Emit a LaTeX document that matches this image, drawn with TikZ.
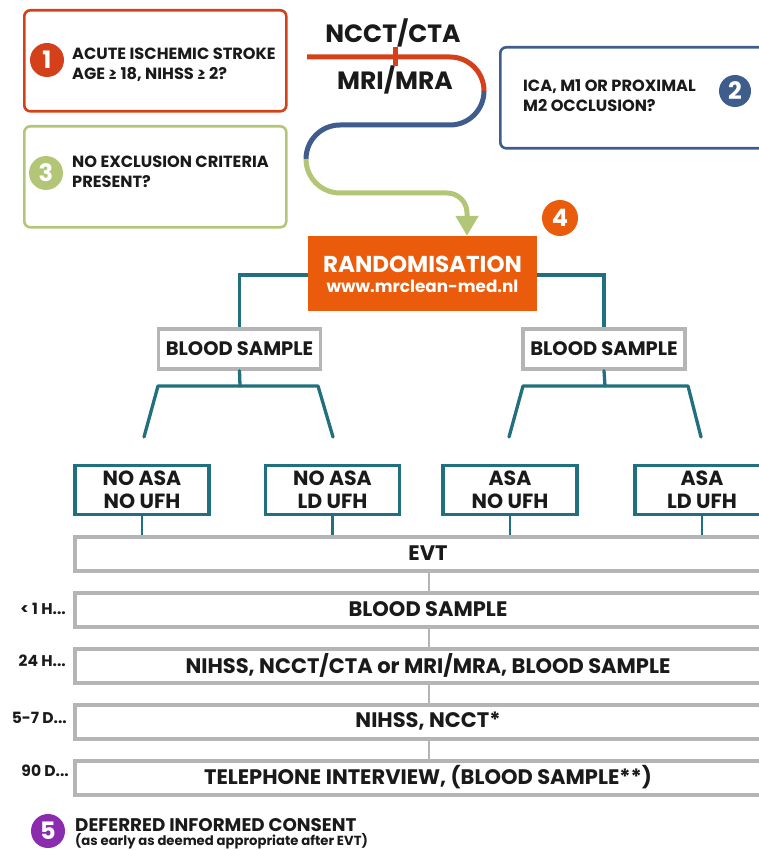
\documentclass[tikz,border=0pt]{standalone}
\usepackage{fontspec}
\setmainfont{Poppins}
\usetikzlibrary{arrows.meta}
\definecolor{cred}{HTML}{D4401A}
\definecolor{corange}{HTML}{EA5B0C}
\definecolor{cblue}{HTML}{3E5C8C}
\definecolor{cgreen}{HTML}{B3C678}
\definecolor{cteal}{HTML}{21707F}
\definecolor{cgrey}{HTML}{B5B5B5}
\definecolor{cpurple}{HTML}{8B2BAE}
\definecolor{ctext}{HTML}{1A1A1A}
\begin{document}
\begin{tikzpicture}[x=1pt,y=-1pt,
  critbox/.style={draw=#1,line width=2.6pt,rounded corners=6pt,minimum width=262pt,minimum height=101pt,anchor=north west,inner sep=0pt},
  numcirc/.style={circle,fill=#1,text=white,font=\fontsize{24}{24}\selectfont\bfseries,minimum size=34pt,inner sep=0pt},
  crittext/.style={anchor=west,align=left,text=ctext,font=\fontsize{16.2}{20}\selectfont\bfseries,inner sep=0pt},
  greybox/.style={draw=cgrey,line width=3.5pt,fill=white,text=ctext,inner sep=0pt},
  treatbox/.style={draw=cteal,line width=3.5pt,fill=white,text=ctext,align=center,minimum width=134pt,minimum height=49pt,inner sep=0pt,font=\fontsize{20.5}{22.5}\selectfont\bfseries},
  rowbox/.style={greybox,anchor=north west,minimum width=720pt,minimum height=34pt},
  rowtext/.style={text=ctext,inner sep=0pt,font=\fontsize{21}{22}\selectfont\bfseries},
  teal line/.style={draw=cteal,line width=3.3pt,line cap=round},
  grey line/.style={draw=cgrey,line width=2.2pt},
  timelabel/.style={anchor=east,text=ctext,font=\fontsize{15.5}{16}\selectfont\bfseries,inner sep=0pt},
  snake/.style={line width=5pt}
]
\useasboundingbox (0,0) rectangle (758,850);

% criteria boxes
\node[critbox=cred] (b1) at (23,9) {};
\node[numcirc=cred] (n1) at (47,60) {1};
\node[crittext] (t1) at (72,65) {ACUTE ISCHEMIC STROKE\\AGE ≥ 18, NIHSS ≥ 2?};

\node[critbox=cblue,minimum width=300pt] (b2) at (499,46) {};
\node[numcirc=cblue,minimum size=32pt] (n2) at (735,91) {2};
\node[crittext] (t2) at (523,96) {ICA, M1 OR PROXIMAL\\M2 OCCLUSION?};

\node[critbox=cgreen] (b3) at (23,125) {};
\node[numcirc=cgreen] (n3) at (46,173) {3};
\node[crittext] (t3) at (72,172) {NO EXCLUSION CRITERIA\\PRESENT?};

% imaging labels
\node[text=ctext,font=\fontsize{25}{25}\selectfont\bfseries,inner sep=0pt] (ncct) at (393,33) {NCCT/CTA};
\node[text=ctext,font=\fontsize{25}{25}\selectfont\bfseries,inner sep=0pt] (mri) at (395,80) {MRI/MRA};

% randomisation
\node[fill=corange,minimum width=229pt,minimum height=75pt,inner sep=0pt] (rand) at (422.5,273.5) {};
\node[text=white,inner sep=0pt,font=\fontsize{23}{23}\selectfont\bfseries] (randt) at (422.5,264) {RANDOMISATION};
\node[text=white,inner sep=0pt,font=\fontsize{16.8}{17}\selectfont\bfseries] (randu) at (422.5,286) {www.mrclean-med.nl};
\node[numcirc=corange,minimum size=36pt] (n4) at (560,218) {4};

% S-curve
\coordinate (s0) at (307,57);
\draw[snake,draw=cred] (s0) -- (450,57) arc[start angle=-90,end angle=0,radius=34] coordinate (s1);
\draw[snake,draw=cblue] (s1) arc[start angle=0,end angle=90,radius=34] -- (340,125) arc[start angle=-90,end angle=-180,radius=34] coordinate (s2);
\draw[snake,draw=cgreen,-{Triangle[width=22pt,length=20pt]}] (s2) arc[start angle=180,end angle=90,radius=34] -- (447,193) arc[start angle=-90,end angle=0,radius=20] -- (rand.north -| 467,0);
\draw[draw=cred,line width=5pt] (395,47) -- (395,66);

% blood sample boxes
\node[greybox,minimum width=162pt,minimum height=40pt,font=\fontsize{19.5}{20}\selectfont\bfseries] (bs1) at (239.5,349) {BLOOD SAMPLE};
\node[greybox,minimum width=162pt,minimum height=40pt,font=\fontsize{19.5}{20}\selectfont\bfseries] (bs2) at (604,349) {BLOOD SAMPLE};

\draw[teal line,line cap=butt] (rand.west |- 0,275) -| (bs1.north);
\draw[teal line,line cap=butt] (rand.east |- 0,275) -| (bs2.north);

% trees
\coordinate (l1) at (144,437);
\coordinate (l2) at (333,437);
\coordinate (l3) at (509,437);
\coordinate (l4) at (701,437);
\draw[teal line] (bs1.south) -- (240,386);
\draw[teal line,line join=round] (l1) -- (158,386) -- (318,386) -- (l2);
\draw[teal line] (bs2.south) -- (605,386);
\draw[teal line,line join=round] (l3) -- (523,386) -- (688,386) -- (l4);

% treatment boxes
\node[treatbox] (tr1) at (142,490) {NO ASA\\NO UFH};
\node[treatbox] (tr2) at (332.5,490) {NO ASA\\LD UFH};
\node[treatbox] (tr3) at (510,490) {ASA\\NO UFH};
\node[treatbox] (tr4) at (702,490) {ASA\\LD UFH};

% rows
\node[rowbox] (evt) at (73,535) {};
\node[rowtext] at (428,553.5) {EVT};
\node[rowbox] (r1) at (73,591) {};
\node[rowtext] at (428,609.5) {BLOOD SAMPLE};
\node[rowbox] (r2) at (73,647) {};
\node[rowtext] at (428,665.5) {NIHSS, NCCT/CTA or MRI/MRA, BLOOD SAMPLE};
\node[rowbox] (r3) at (73,703) {};
\node[rowtext] at (428,721.5) {NIHSS, NCCT*};
\node[rowbox] (r4) at (73,759) {};
\node[rowtext] at (428,777.5) {TELEPHONE INTERVIEW, (BLOOD SAMPLE**)};

\foreach \t in {tr1,tr2,tr3,tr4}
  \draw[draw=cteal,line width=2.2pt] (\t.south) -- (\t.south |- evt.north);
\draw[grey line] (evt.south -| 429,0) -- (r1.north -| 429,0);
\draw[grey line] (r1.south -| 429,0) -- (r2.north -| 429,0);
\draw[grey line] (r2.south -| 429,0) -- (r3.north -| 429,0);
\draw[grey line] (r3.south -| 429,0) -- (r4.north -| 429,0);

% time labels
\node[timelabel] (lab1) at (66,609) {< 1 H...};
\node[timelabel] (lab2) at (66,661) {24 H...};
\node[timelabel] (lab3) at (67,718) {5-7 D...};
\node[timelabel] (lab4) at (69,771) {90 D...};

% consent
\node[numcirc=cpurple] (n5) at (48,831) {5};
\node[anchor=west,inner sep=0pt,text=ctext,font=\fontsize{18.3}{19}\selectfont\bfseries] (cons) at (75,825) {DEFERRED INFORMED CONSENT};
\node[anchor=west,inner sep=0pt,text=ctext,font=\fontsize{13.2}{14}\selectfont\bfseries] (cons2) at (75,841) {(as early as deemed appropriate after EVT)};
\end{tikzpicture}
\end{document}
